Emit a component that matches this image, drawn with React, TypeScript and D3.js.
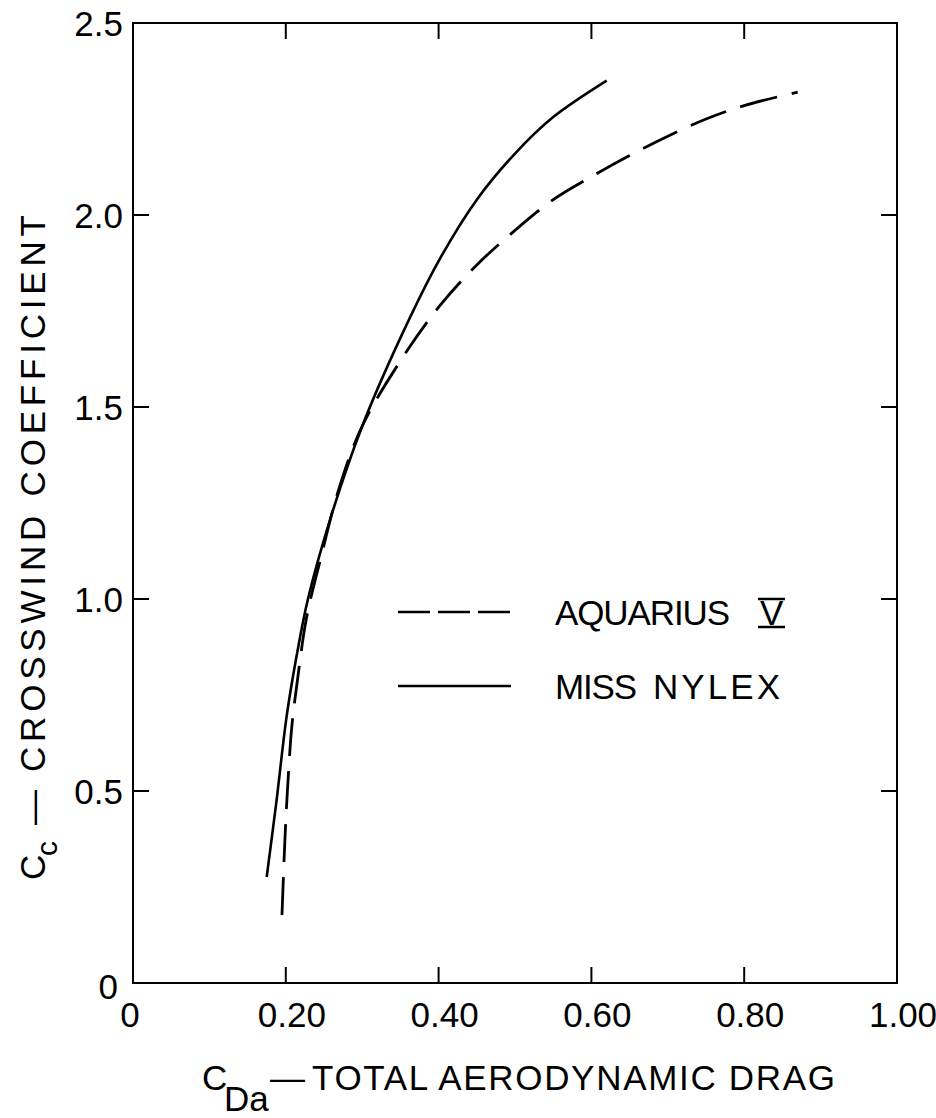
import * as d3 from 'd3'
import { useEffect, useRef } from 'react'

// axis ticks
const xTickVals = [0, 0.2, 0.4, 0.6, 0.8, 1.0]
const xTickLabels = ['0', '0.20', '0.40', '0.60', '0.80', '1.00']
const yTickVals = [0, 0.5, 1.0, 1.5, 2.0, 2.5]
const yTickLabels = ['0', '0.5', '1.0', '1.5', '2.0', '2.5']

// MISS NYLEX (solid)
const nylexX = [0.175, 0.188, 0.201, 0.214, 0.229, 0.26, 0.30, 0.35, 0.40, 0.45, 0.50, 0.55, 0.62]
const nylexY = [0.276, 0.477, 0.693, 0.85, 1.0, 1.22, 1.45, 1.68, 1.88, 2.04, 2.16, 2.255, 2.35]

// AQUARIUS V (dashed)
const aquaX = [0.195, 0.199, 0.203, 0.208, 0.216, 0.227, 0.245, 0.27, 0.30, 0.35, 0.40, 0.45, 0.50, 0.55, 0.60, 0.65, 0.70, 0.75, 0.80, 0.87]
const aquaY = [0.177, 0.38, 0.53, 0.67, 0.80, 0.95, 1.10, 1.29, 1.45, 1.62, 1.76, 1.87, 1.96, 2.04, 2.10, 2.155, 2.205, 2.25, 2.285, 2.32]

const FONT = 'Liberation Sans, Arial, sans-serif'

function drawChart(el: SVGSVGElement) {
    const svg = d3.select(el)
    svg.selectAll('*').remove()

    const left = 133, right = 897, top = 23, bottom = 983
    const x = d3.scaleLinear().domain([0, 1]).range([left, right])
    const y = d3.scaleLinear().domain([0, 2.5]).range([bottom, top])
    const tickLen = 16

    // frame
    svg.append('rect')
        .attr('x', left).attr('y', top)
        .attr('width', right - left).attr('height', bottom - top)
        .attr('fill', 'none').attr('stroke', '#000').attr('stroke-width', 2)

    // inward ticks on all four sides
    const innerX = xTickVals.slice(1, -1)
    const innerY = yTickVals.slice(1, -1)
    const g = svg.append('g').attr('stroke', '#000').attr('stroke-width', 2)
    innerX.forEach(v => {
        g.append('line').attr('x1', x(v)).attr('x2', x(v)).attr('y1', bottom).attr('y2', bottom - tickLen)
        g.append('line').attr('x1', x(v)).attr('x2', x(v)).attr('y1', top).attr('y2', top + tickLen)
    })
    innerY.forEach(v => {
        g.append('line').attr('y1', y(v)).attr('y2', y(v)).attr('x1', left).attr('x2', left + tickLen)
        g.append('line').attr('y1', y(v)).attr('y2', y(v)).attr('x1', right).attr('x2', right - tickLen)
    })

    // tick labels
    svg.selectAll('text.xl').data(xTickVals).enter().append('text')
        .attr('class', 'xl')
        .attr('x', (d, i) => x(d) + (i === 0 ? -3 : 6))
        .attr('y', 1027)
        .attr('text-anchor', 'middle')
        .attr('font-family', FONT).attr('font-size', 35)
        .text((d, i) => xTickLabels[i])

    svg.selectAll('text.yl').data(yTickVals).enter().append('text')
        .attr('class', 'yl')
        .attr('x', (d, i) => i === 0 ? 118 : 123)
        .attr('y', (d, i) => y(d) + (i === 0 ? 16 : 13))
        .attr('text-anchor', 'end')
        .attr('font-family', FONT).attr('font-size', 35)
        .text((d, i) => yTickLabels[i])

    // curves
    const line = d3.line<[number, number]>()
        .x(d => x(d[0])).y(d => y(d[1]))
        .curve(d3.curveCatmullRom.alpha(0.5))

    const nylex = nylexX.map((v, i) => [v, nylexY[i]] as [number, number])
    const aqua = aquaX.map((v, i) => [v, aquaY[i]] as [number, number])

    svg.append('path').attr('d', line(nylex))
        .attr('fill', 'none').attr('stroke', '#000').attr('stroke-width', 2.6)
    svg.append('path').attr('d', line(aqua))
        .attr('fill', 'none').attr('stroke', '#000').attr('stroke-width', 2.8)
        .attr('stroke-dasharray', '38,15')

    // legend
    const lg = svg.append('g')
    lg.append('line').attr('x1', 398).attr('x2', 511).attr('y1', 612).attr('y2', 612)
        .attr('stroke', '#000').attr('stroke-width', 2.5).attr('stroke-dasharray', '32,8')
    lg.append('line').attr('x1', 398).attr('x2', 511).attr('y1', 686).attr('y2', 686)
        .attr('stroke', '#000').attr('stroke-width', 2.5)
    lg.append('text').attr('x', 555).attr('y', 625)
        .attr('font-family', FONT).attr('font-size', 35)
        .attr('textLength', 175).attr('lengthAdjust', 'spacing')
        .text('AQUARIUS')
    lg.append('text').attr('x', 760).attr('y', 625)
        .attr('font-family', FONT).attr('font-size', 35)
        .text('V')
    // bars of the roman numeral
    lg.append('line').attr('x1', 758).attr('x2', 785).attr('y1', 599).attr('y2', 599)
        .attr('stroke', '#000').attr('stroke-width', 2.5)
    lg.append('line').attr('x1', 758).attr('x2', 785).attr('y1', 627).attr('y2', 627)
        .attr('stroke', '#000').attr('stroke-width', 2.5)
    lg.append('text').attr('x', 555).attr('y', 699)
        .attr('font-family', FONT).attr('font-size', 35)
        .attr('textLength', 82).attr('lengthAdjust', 'spacing')
        .text('MISS')
    lg.append('text').attr('x', 653).attr('y', 699)
        .attr('font-family', FONT).attr('font-size', 35)
        .attr('textLength', 127).attr('lengthAdjust', 'spacing')
        .text('NYLEX')

    // x axis title
    const xt = svg.append('g').attr('font-family', FONT)
    xt.append('text').attr('x', 202).attr('y', 1090).attr('font-size', 35).text('C')
    xt.append('text').attr('x', 224).attr('y', 1111).attr('font-size', 35).text('Da')
    xt.append('text').attr('x', 270).attr('y', 1090).attr('font-size', 35).text('—')
    xt.append('text').attr('x', 312).attr('y', 1090).attr('font-size', 35)
        .attr('textLength', 523).attr('lengthAdjust', 'spacing')
        .text('TOTAL AERODYNAMIC DRAG')

    // y axis title (rotated)
    const yt = svg.append('g').attr('font-family', FONT)
        .attr('transform', 'translate(45,0) rotate(-90)')
    yt.append('text').attr('x', -880).attr('y', 0).attr('font-size', 35).text('C')
    yt.append('text').attr('x', -856).attr('y', 12).attr('font-size', 30).text('c')
    yt.append('text').attr('x', -825).attr('y', 0).attr('font-size', 35).text('—')
    yt.append('text').attr('x', -772).attr('y', 0).attr('font-size', 35)
        .attr('textLength', 557).attr('lengthAdjust', 'spacing')
        .text('CROSSWIND COEFFICIENT')
}

function App() {
    const ref = useRef<SVGSVGElement>(null)

    useEffect(() => {
        if (ref.current) drawChart(ref.current)
    }, [])

    return (
        <svg ref={ref} width={936} height={1118}
            style={{ position: 'absolute', left: 0, top: 0, background: '#fff' }} />
    )
}

export default App
